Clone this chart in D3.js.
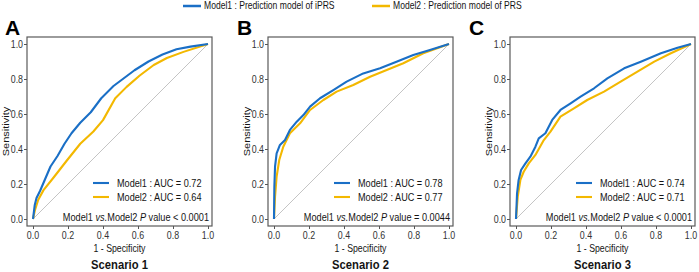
<!DOCTYPE html>
<html>
<head>
<meta charset="utf-8">
<script src="https://cdn.jsdelivr.net/npm/d3@7"></script>
<style>
  body { margin: 0; background: #fff; }
  svg { display: block; font-family: "Liberation Sans", Arial, sans-serif; }
</style>
</head>
<body>
<div id="chart"></div>
<script>
// Data (1 - specificity, sensitivity)
const panels = ['A', 'B', 'C'];
const scenarios = ['Scenario 1', 'Scenario 2', 'Scenario 3'];
const aucModel1 = ['0.72', '0.78', '0.74'];
const aucModel2 = ['0.64', '0.77', '0.71'];
const pValues = ['< 0.0001', '= 0.0044', '< 0.0001'];
const seriesNames = ['Model1 : Prediction model of iPRS', 'Model2 : Prediction model of PRS'];

const fprA1 = [0, 0.01, 0.02, 0.04, 0.07, 0.1, 0.14, 0.18, 0.22, 0.27, 0.33, 0.39, 0.46, 0.5, 0.58, 0.66, 0.74, 0.82, 0.9, 1];
const tprA1 = [0, 0.08, 0.12, 0.16, 0.23, 0.3, 0.36, 0.43, 0.49, 0.55, 0.61, 0.69, 0.76, 0.79, 0.85, 0.9, 0.94, 0.97, 0.985, 1];
const fprA2 = [0, 0.011, 0.03, 0.06, 0.12, 0.19, 0.27, 0.345, 0.4, 0.47, 0.535, 0.61, 0.69, 0.765, 0.86, 1];
const tprA2 = [0, 0.05, 0.11, 0.165, 0.24, 0.33, 0.43, 0.5, 0.565, 0.69, 0.755, 0.82, 0.88, 0.92, 0.955, 1];

const fprB1 = [0, 0.002, 0.006, 0.015, 0.034, 0.063, 0.091, 0.13, 0.168, 0.206, 0.263, 0.339, 0.415, 0.51, 0.606, 0.7, 0.796, 0.891, 1];
const tprB1 = [0, 0.185, 0.3, 0.375, 0.423, 0.451, 0.509, 0.556, 0.594, 0.642, 0.69, 0.737, 0.785, 0.832, 0.861, 0.899, 0.937, 0.966, 1];
const fprB2 = [0, 0.006, 0.015, 0.03, 0.053, 0.091, 0.149, 0.206, 0.282, 0.358, 0.453, 0.549, 0.644, 0.739, 0.853, 1];
const tprB2 = [0, 0.128, 0.242, 0.337, 0.413, 0.49, 0.547, 0.623, 0.68, 0.728, 0.766, 0.813, 0.851, 0.89, 0.947, 1];

const fprC1 = [0, 0.006, 0.015, 0.029, 0.054, 0.082, 0.111, 0.13, 0.168, 0.207, 0.254, 0.312, 0.369, 0.446, 0.522, 0.618, 0.713, 0.828, 0.923, 1];
const tprC1 = [0, 0.147, 0.223, 0.28, 0.318, 0.356, 0.413, 0.461, 0.49, 0.566, 0.623, 0.661, 0.699, 0.747, 0.804, 0.861, 0.899, 0.947, 0.979, 1];
const fprC2 = [0, 0.01, 0.025, 0.044, 0.073, 0.111, 0.159, 0.197, 0.254, 0.331, 0.407, 0.503, 0.598, 0.694, 0.79, 0.885, 1];
const tprC2 = [0, 0.128, 0.223, 0.27, 0.318, 0.366, 0.451, 0.499, 0.585, 0.632, 0.68, 0.728, 0.785, 0.842, 0.899, 0.947, 1];

const curves = [
    [[fprA1, tprA1], [fprA2, tprA2]],
    [[fprB1, tprB1], [fprB2, tprB2]],
    [[fprC1, tprC1], [fprC2, tprC2]]
];
const ticks = [0, 0.2, 0.4, 0.6, 0.8, 1.0];

const colors = ['#1a6fc6', '#f3b800'];
const width = 699, height = 272;
const sx = 0.85; // source figure is squeezed horizontally

const svg = d3.select('#chart').append('svg')
    .attr('width', width)
    .attr('height', height);

// text with horizontal squeeze
function label(g, x, y, str, size, anchor, opts) {
    opts = opts || {};
    const t = g.append('text')
        .attr('transform', 'translate(' + x + ',' + y + ') scale(' + (opts.sx || sx) + ',1)')
        .attr('font-size', size)
        .attr('text-anchor', anchor)
        .attr('dominant-baseline', 'central')
        .attr('fill', opts.fill || '#141414')
        .attr('font-weight', opts.bold ? 'bold' : null);
    return t.text(str);
}

// top legend
const legendX = [183, 372];
seriesNames.forEach(function (name, i) {
    svg.append('line')
        .attr('x1', legendX[i]).attr('x2', legendX[i] + 18)
        .attr('y1', 6).attr('y2', 6)
        .attr('stroke', colors[i]).attr('stroke-width', 2.5);
    label(svg, legendX[i] + 21, 6, name, 10.1, 'start');
});

const letterX = [5, 237, 469];

panels.forEach(function (p, k) {
    const ox = [0, 241, 483][k];
    const g = svg.append('g');
    const box = {left: ox + 27, right: ox + 212, top: 37, bottom: 226};

    const x = d3.scaleLinear().domain([0, 1]).range([ox + 33, ox + 208]);
    const y = d3.scaleLinear().domain([0, 1]).range([219, 44]);

    // diagonal
    g.append('line')
        .attr('x1', x(0)).attr('y1', y(0))
        .attr('x2', x(1)).attr('y2', y(1))
        .attr('stroke', '#bdbdbd').attr('stroke-width', 0.9);

    // curves, Model2 first so Model1 sits on top
    const line = d3.line().x(d => x(d[0])).y(d => y(d[1]));
    [1, 0].forEach(function (s) {
        const pts = d3.zip(curves[k][s][0], curves[k][s][1]);
        g.append('path')
            .datum(pts)
            .attr('d', line)
            .attr('fill', 'none')
            .attr('stroke', colors[s])
            .attr('stroke-width', 2.1)
            .attr('stroke-linejoin', 'round');
    });

    // panel border
    g.append('rect')
        .attr('x', box.left).attr('y', box.top)
        .attr('width', box.right - box.left).attr('height', box.bottom - box.top)
        .attr('fill', 'none').attr('stroke', '#5a5a5a').attr('stroke-width', 1.2);

    // axes (tick marks only, labels drawn squeezed below)
    g.append('g')
        .attr('transform', 'translate(0,' + box.bottom + ')')
        .call(d3.axisBottom(x).tickValues(ticks).tickSize(3))
        .call(a => a.select('.domain').remove())
        .call(a => a.selectAll('line').attr('stroke', '#555'))
        .call(a => a.selectAll('text').remove());
    g.append('g')
        .attr('transform', 'translate(' + box.left + ',0)')
        .call(d3.axisLeft(y).tickValues(ticks).tickSize(3))
        .call(a => a.select('.domain').remove())
        .call(a => a.selectAll('line').attr('stroke', '#555'))
        .call(a => a.selectAll('text').remove());

    ticks.forEach(function (t) {
        label(g, x(t), 235, d3.format('.1f')(t), 10.4, 'middle', {fill: '#333'});
        label(g, box.left - 4, y(t), d3.format('.1f')(t), 10.4, 'end', {fill: '#333'});
    });

    // axis titles
    const cx = (box.left + box.right) / 2;
    label(g, cx, 248, '1 - Specificity', 10.3, 'middle');
    g.append('text')
        .attr('transform', 'translate(' + (box.left - 21) + ',' + ((box.top + box.bottom) / 2) + ') rotate(-90) scale(1,' + sx + ')')
        .attr('font-size', 11)
        .attr('text-anchor', 'middle')
        .attr('dominant-baseline', 'central')
        .attr('fill', '#141414')
        .text('Sensitivity');

    // scenario caption and panel letter
    label(g, cx, 265, scenarios[k], 13.2, 'middle', {bold: true});
    label(g, letterX[k], 27, p, 21, 'start', {bold: true, sx: 1, fill: '#000'});

    // inner legend
    [aucModel1[k], aucModel2[k]].forEach(function (auc, i) {
        const ly = 183 + i * 14;
        g.append('line')
            .attr('x1', box.left + 66).attr('x2', box.left + 82)
            .attr('y1', ly).attr('y2', ly)
            .attr('stroke', colors[i]).attr('stroke-width', 2.1);
        label(g, box.left + 90, ly, 'Model' + (i + 1) + ' : AUC = ' + auc, 10.75, 'start');
    });

    // comparison p value
    const pt = g.append('text')
        .attr('transform', 'translate(' + (box.right - 3) + ',217) scale(' + sx + ',1)')
        .attr('font-size', 10.8)
        .attr('text-anchor', 'end')
        .attr('dominant-baseline', 'central')
        .attr('fill', '#141414');
    pt.append('tspan').text('Model1 ');
    pt.append('tspan').attr('font-style', 'italic').text('vs.');
    pt.append('tspan').text('Model2 ');
    pt.append('tspan').attr('font-style', 'italic').text('P');
    pt.append('tspan').text(' value ' + pValues[k]);
});
</script>
</body>
</html>
